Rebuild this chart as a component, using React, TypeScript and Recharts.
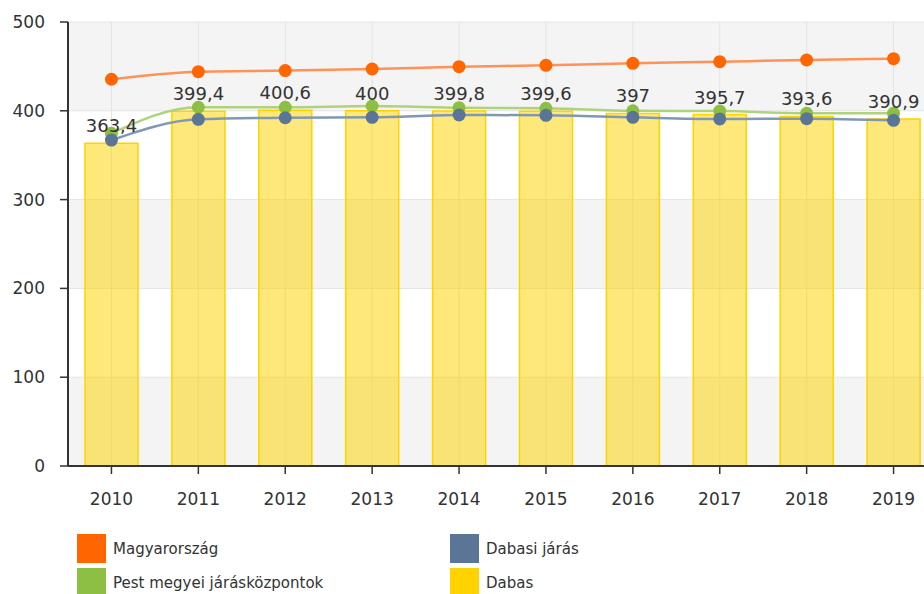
import { ComposedChart, Bar, Line, XAxis, YAxis, CartesianGrid, LabelList } from 'recharts';

const years = ['2010', '2011', '2012', '2013', '2014', '2015', '2016', '2017', '2018', '2019'];
const magyarorszag = [435.5, 444.1, 445.3, 447.1, 449.7, 451.2, 453.5, 455.3, 457.2, 458.7];
const pestKozpontok = [374.6, 404, 404, 405.4, 403.5, 402.8, 400, 399.8, 397.2, 397.2];
const dabasiJaras = [367, 390.4, 392.2, 392.6, 395.3, 394.9, 392.6, 390.8, 391.1, 389.3];
const dabas = [363.4, 399.4, 400.6, 400, 399.8, 399.6, 397, 395.7, 393.6, 390.9];
const yTicks = [0, 100, 200, 300, 400, 500];

const legendItems = [
  { label: 'Magyarország', color: '#ff6600' },
  { label: 'Dabasi járás', color: '#5b7596' },
  { label: 'Pest megyei járásközpontok', color: '#8cbf44' },
  { label: 'Dabas', color: '#ffd200' },
];

const data = years.map((year, i) => ({
  year,
  magyarorszag: magyarorszag[i],
  pest: pestKozpontok[i],
  jaras: dabasiJaras[i],
  dabas: dabas[i],
}));

const font = 'DejaVu Sans, Verdana, sans-serif';

export default function App() {
  return (
    <div style={{ width: 924, height: 594, overflow: 'hidden', position: 'relative', fontFamily: font }}>
      <style>{'body{margin:0;overflow:hidden}'}</style>
      <ComposedChart width={940} height={520} data={data} margin={{ top: 22, right: 3, left: 0, bottom: 0 }}>
        <CartesianGrid stroke="#e4e4e4" horizontalFill={['#f4f4f4', '#ffffff']} fillOpacity={1} />
        <XAxis
          dataKey="year"
          height={54}
          tickSize={8}
          tickMargin={19}
          axisLine={{ stroke: '#333', strokeWidth: 2 }}
          tickLine={{ stroke: '#333', strokeWidth: 1.5 }}
          tick={{ fill: '#333', fontSize: 17, fontFamily: font }}
        />
        <YAxis
          width={68}
          domain={[0, 500]}
          ticks={yTicks}
          tickSize={8}
          tickMargin={15}
          axisLine={{ stroke: '#333', strokeWidth: 2 }}
          tickLine={{ stroke: '#333', strokeWidth: 1.5 }}
          tick={{ fill: '#333', fontSize: 17, fontFamily: font }}
        />
        <Bar
          dataKey="dabas"
          barSize={53}
          fill="#ffd200"
          fillOpacity={0.52}
          stroke="#ffd200"
          strokeWidth={1.5}
          isAnimationActive={false}
        >
          <LabelList
            dataKey="dabas"
            position="top"
            offset={11}
            fill="#333"
            fontSize={18}
            fontFamily={font}
            formatter={(v: any) => String(v).replace('.', ',')}
          />
        </Bar>
        <Line
          type="monotone"
          dataKey="magyarorszag"
          stroke="#ff9256"
          strokeWidth={2.5}
          dot={{ r: 6.5, fill: '#ff6600', stroke: '#ff6600', strokeWidth: 0 }}
          isAnimationActive={false}
        />
        <Line
          type="monotone"
          dataKey="pest"
          stroke="#aed37c"
          strokeWidth={2.5}
          dot={{ r: 6.5, fill: '#8cbf44', stroke: '#8cbf44', strokeWidth: 0 }}
          isAnimationActive={false}
        />
        <Line
          type="monotone"
          dataKey="jaras"
          stroke="#8198b4"
          strokeWidth={2.5}
          dot={{ r: 6.5, fill: '#5b7596', stroke: '#5b7596', strokeWidth: 0 }}
          isAnimationActive={false}
        />
      </ComposedChart>
      {legendItems.map((item, i) => {
        const col = i % 2;
        const row = Math.floor(i / 2);
        return (
          <div
            key={item.label}
            style={{
              position: 'absolute',
              left: col === 0 ? 77 : 450,
              top: 534 + row * 34,
              display: 'flex',
              alignItems: 'center',
              height: 29,
            }}
          >
            <div style={{ width: 29, height: 29, background: item.color }} />
            <span style={{ marginLeft: 7, fontSize: 15, color: '#333' }}>{item.label}</span>
          </div>
        );
      })}
    </div>
  );
}
